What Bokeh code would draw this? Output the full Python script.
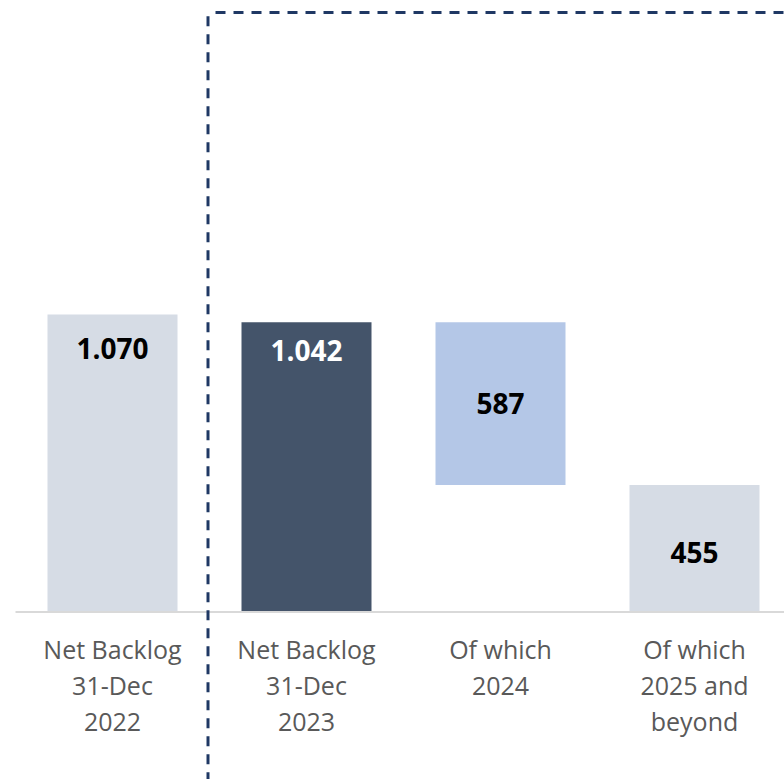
from bokeh.plotting import figure
from bokeh.models import Range1d, ColumnDataSource
from bokeh.core.properties import value
from bokeh.embed import file_html
from bokeh.resources import INLINE

# ---- data ----
categories = ["Net Backlog\n31-Dec\n2022", "Net Backlog\n31-Dec\n2023",
              "Of which\n2024", "Of which\n2025 and\nbeyond"]
values = [1070, 1042, 587, 455]
value_labels = ["1.070", "1.042", "587", "455"]

# waterfall structure
bottoms = [0, 0, values[1] - values[2], 0]
tops = [b + v for b, v in zip(bottoms, values)]
xs = list(range(len(categories)))

# ---- layout constants ----
W, H = 784, 779
K = 0.2771            # px per unit
BASE_PX = 610.5       # baseline position from top (px)
X0 = 112              # centre of first bar (px)
STEP = 194            # px between bars
y_start = -(H - BASE_PX) / K
y_end = BASE_PX / K
x_start = -X0 / STEP
x_end = (W - X0) / STEP

bar_colors = ["#d6dce5", "#44546a", "#b4c7e7", "#d6dce5"]
text_colors = ["#000000", "#ffffff", "#000000", "#000000"]

# label positions (px offsets converted to data units)
label_y = [tops[0] - 34 / K, tops[1] - 28 / K,
           (bottoms[2] + tops[2]) / 2, (bottoms[3] + tops[3]) / 2 - 5 / K]

p = figure(width=W, height=H, output_backend="svg", toolbar_location=None,
           x_range=Range1d(x_start, x_end), y_range=Range1d(y_start, y_end),
           min_border=0, outline_line_color=None, background_fill_color="white")
p.axis.visible = False
p.grid.visible = False

src = ColumnDataSource(dict(x=xs, bottom=bottoms, top=tops, color=bar_colors,
                            lab=value_labels, ly=label_y, tc=text_colors,
                            cat=categories))

p.vbar(x="x", bottom="bottom", top="top", width=130 / STEP, color="color",
       line_color=None, source=src)

# baseline
p.line(x=[(15 - X0) / STEP, x_end + 1], y=[-1 / K, -1 / K],
       line_color="#d9d9d9", line_width=2)

# value labels
p.text(x="x", y="ly", text="lab", text_color="tc", source=src,
       text_font=value("Open Sans"), text_font_style="bold",
       text_font_size="28px", text_align="center", text_baseline="middle")

# category labels
p.text(x="x", y=-20.5 / K, text="cat", source=src,
       text_font=value("Open Sans"), text_font_size="25px",
       text_color="#595959", text_align="center", text_baseline="top",
       text_line_height=1.07)

# dashed frame
box_top = (BASE_PX - 12) / K
vx = (207.5 - X0) / STEP
p.line(x=[vx, vx], y=[y_start - 10, box_top], line_color="#1f3864",
       line_width=3, line_dash="10 8")
p.line(x=[(215 - X0) / STEP, x_end + 1], y=[box_top, box_top], line_color="#1f3864",
       line_width=3, line_dash="10 8")

open("out.html", "w").write(file_html(p, INLINE))
